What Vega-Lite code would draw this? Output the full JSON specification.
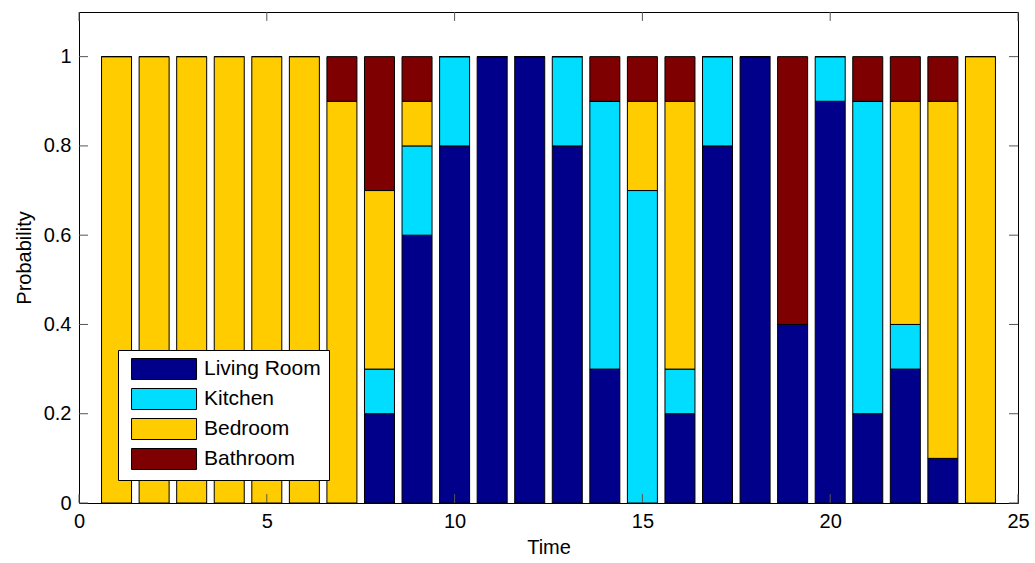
{
  "$schema": "https://vega.github.io/schema/vega-lite/v6.json",
  "width": 939,
  "height": 491,
  "autosize": "none",
  "padding": {"left": 79, "top": 12, "right": 17, "bottom": 60},
  "background": "white",
  "config": {
    "view": {"stroke": "black", "strokeWidth": 1},
    "font": "Liberation Sans",
    "axis": {"labelFont": "Liberation Sans", "titleFont": "Liberation Sans", "labelFontSize": 20, "titleFontSize": 20, "titleFontWeight": "normal", "labelColor": "black", "titleColor": "black", "grid": false, "domain": false, "ticks": false, "labelFlush": false},
    "legend": {"labelFont": "Liberation Sans", "labelFontSize": 21, "labelColor": "black"}
  },
  "datasets": {
    "bars": [
      {"t":1,"room":"Living Room","o":1,"p":0},{"t":1,"room":"Kitchen","o":2,"p":0},{"t":1,"room":"Bedroom","o":3,"p":1},{"t":1,"room":"Bathroom","o":4,"p":0},
      {"t":2,"room":"Living Room","o":1,"p":0},{"t":2,"room":"Kitchen","o":2,"p":0},{"t":2,"room":"Bedroom","o":3,"p":1},{"t":2,"room":"Bathroom","o":4,"p":0},
      {"t":3,"room":"Living Room","o":1,"p":0},{"t":3,"room":"Kitchen","o":2,"p":0},{"t":3,"room":"Bedroom","o":3,"p":1},{"t":3,"room":"Bathroom","o":4,"p":0},
      {"t":4,"room":"Living Room","o":1,"p":0},{"t":4,"room":"Kitchen","o":2,"p":0},{"t":4,"room":"Bedroom","o":3,"p":1},{"t":4,"room":"Bathroom","o":4,"p":0},
      {"t":5,"room":"Living Room","o":1,"p":0},{"t":5,"room":"Kitchen","o":2,"p":0},{"t":5,"room":"Bedroom","o":3,"p":1},{"t":5,"room":"Bathroom","o":4,"p":0},
      {"t":6,"room":"Living Room","o":1,"p":0},{"t":6,"room":"Kitchen","o":2,"p":0},{"t":6,"room":"Bedroom","o":3,"p":1},{"t":6,"room":"Bathroom","o":4,"p":0},
      {"t":7,"room":"Living Room","o":1,"p":0},{"t":7,"room":"Kitchen","o":2,"p":0},{"t":7,"room":"Bedroom","o":3,"p":0.9},{"t":7,"room":"Bathroom","o":4,"p":0.1},
      {"t":8,"room":"Living Room","o":1,"p":0.2},{"t":8,"room":"Kitchen","o":2,"p":0.1},{"t":8,"room":"Bedroom","o":3,"p":0.4},{"t":8,"room":"Bathroom","o":4,"p":0.3},
      {"t":9,"room":"Living Room","o":1,"p":0.6},{"t":9,"room":"Kitchen","o":2,"p":0.2},{"t":9,"room":"Bedroom","o":3,"p":0.1},{"t":9,"room":"Bathroom","o":4,"p":0.1},
      {"t":10,"room":"Living Room","o":1,"p":0.8},{"t":10,"room":"Kitchen","o":2,"p":0.2},{"t":10,"room":"Bedroom","o":3,"p":0},{"t":10,"room":"Bathroom","o":4,"p":0},
      {"t":11,"room":"Living Room","o":1,"p":1},{"t":11,"room":"Kitchen","o":2,"p":0},{"t":11,"room":"Bedroom","o":3,"p":0},{"t":11,"room":"Bathroom","o":4,"p":0},
      {"t":12,"room":"Living Room","o":1,"p":1},{"t":12,"room":"Kitchen","o":2,"p":0},{"t":12,"room":"Bedroom","o":3,"p":0},{"t":12,"room":"Bathroom","o":4,"p":0},
      {"t":13,"room":"Living Room","o":1,"p":0.8},{"t":13,"room":"Kitchen","o":2,"p":0.2},{"t":13,"room":"Bedroom","o":3,"p":0},{"t":13,"room":"Bathroom","o":4,"p":0},
      {"t":14,"room":"Living Room","o":1,"p":0.3},{"t":14,"room":"Kitchen","o":2,"p":0.6},{"t":14,"room":"Bedroom","o":3,"p":0},{"t":14,"room":"Bathroom","o":4,"p":0.1},
      {"t":15,"room":"Living Room","o":1,"p":0},{"t":15,"room":"Kitchen","o":2,"p":0.7},{"t":15,"room":"Bedroom","o":3,"p":0.2},{"t":15,"room":"Bathroom","o":4,"p":0.1},
      {"t":16,"room":"Living Room","o":1,"p":0.2},{"t":16,"room":"Kitchen","o":2,"p":0.1},{"t":16,"room":"Bedroom","o":3,"p":0.6},{"t":16,"room":"Bathroom","o":4,"p":0.1},
      {"t":17,"room":"Living Room","o":1,"p":0.8},{"t":17,"room":"Kitchen","o":2,"p":0.2},{"t":17,"room":"Bedroom","o":3,"p":0},{"t":17,"room":"Bathroom","o":4,"p":0},
      {"t":18,"room":"Living Room","o":1,"p":1},{"t":18,"room":"Kitchen","o":2,"p":0},{"t":18,"room":"Bedroom","o":3,"p":0},{"t":18,"room":"Bathroom","o":4,"p":0},
      {"t":19,"room":"Living Room","o":1,"p":0.4},{"t":19,"room":"Kitchen","o":2,"p":0},{"t":19,"room":"Bedroom","o":3,"p":0},{"t":19,"room":"Bathroom","o":4,"p":0.6},
      {"t":20,"room":"Living Room","o":1,"p":0.9},{"t":20,"room":"Kitchen","o":2,"p":0.1},{"t":20,"room":"Bedroom","o":3,"p":0},{"t":20,"room":"Bathroom","o":4,"p":0},
      {"t":21,"room":"Living Room","o":1,"p":0.2},{"t":21,"room":"Kitchen","o":2,"p":0.7},{"t":21,"room":"Bedroom","o":3,"p":0},{"t":21,"room":"Bathroom","o":4,"p":0.1},
      {"t":22,"room":"Living Room","o":1,"p":0.3},{"t":22,"room":"Kitchen","o":2,"p":0.1},{"t":22,"room":"Bedroom","o":3,"p":0.5},{"t":22,"room":"Bathroom","o":4,"p":0.1},
      {"t":23,"room":"Living Room","o":1,"p":0.1},{"t":23,"room":"Kitchen","o":2,"p":0},{"t":23,"room":"Bedroom","o":3,"p":0.8},{"t":23,"room":"Bathroom","o":4,"p":0.1},
      {"t":24,"room":"Living Room","o":1,"p":0},{"t":24,"room":"Kitchen","o":2,"p":0},{"t":24,"room":"Bedroom","o":3,"p":1},{"t":24,"room":"Bathroom","o":4,"p":0}
    ],
    "xticks": [{"t":0},{"t":5},{"t":10},{"t":15},{"t":20},{"t":25}],
    "yticks": [{"p":0},{"p":0.2},{"p":0.4},{"p":0.6},{"p":0.8},{"p":1}]
  },
  "layer": [
    {
      "data": {"name": "bars"},
      "mark": {"type": "bar", "orient": "vertical", "width": 30, "stroke": "black", "strokeWidth": 1, "opacity": 1},
      "encoding": {
        "x": {"field": "t", "type": "quantitative", "scale": {"domain": [0, 25], "nice": false, "zero": false, "padding": 0},
              "axis": {"values": [0, 5, 10, 15, 20, 25], "title": "Time", "labelPadding": 8, "titlePadding": 6, "labelFlush": false}},
        "y": {"field": "p", "type": "quantitative", "stack": "zero", "scale": {"domain": [0, 1.1], "nice": false, "padding": 0},
              "axis": {"values": [0, 0.2, 0.4, 0.6, 0.8, 1], "format": "~g", "title": "Probability", "labelPadding": 8, "titlePadding": 9, "labelFlush": false}},
        "color": {"field": "room", "type": "nominal",
                  "scale": {"domain": ["Living Room", "Kitchen", "Bedroom", "Bathroom"], "range": ["#00008B", "#00DDFF", "#FFCC00", "#7F0000"]},
                  "legend": {"title": null, "orient": "none", "legendX": 39, "legendY": 338, "direction": "vertical",
                             "symbolType": "M-0.52,-1H5.67V1H-0.52Z", "symbolSize": 441, "symbolStrokeColor": "black", "symbolStrokeWidth": 1, "symbolOpacity": 1,
                             "strokeColor": "black", "fillColor": "white", "padding": 8, "labelOffset": 56, "rowPadding": 4}},
        "order": {"field": "o", "type": "quantitative"}
      }
    },
    {
      "data": {"name": "xticks"},
      "mark": {"type": "rule", "color": "#555555", "strokeWidth": 1},
      "encoding": {"x": {"field": "t", "type": "quantitative"}, "y": {"datum": 0}, "y2": {"datum": 0.02}}
    },
    {
      "data": {"name": "xticks"},
      "mark": {"type": "rule", "color": "#555555", "strokeWidth": 1},
      "encoding": {"x": {"field": "t", "type": "quantitative"}, "y": {"datum": 1.08}, "y2": {"datum": 1.1}}
    },
    {
      "data": {"name": "yticks"},
      "mark": {"type": "rule", "color": "#555555", "strokeWidth": 1},
      "encoding": {"y": {"field": "p", "type": "quantitative"}, "x": {"datum": 0}, "x2": {"datum": 0.24}}
    },
    {
      "data": {"name": "yticks"},
      "mark": {"type": "rule", "color": "#555555", "strokeWidth": 1},
      "encoding": {"y": {"field": "p", "type": "quantitative"}, "x": {"datum": 24.76}, "x2": {"datum": 25}}
    }
  ]
}
